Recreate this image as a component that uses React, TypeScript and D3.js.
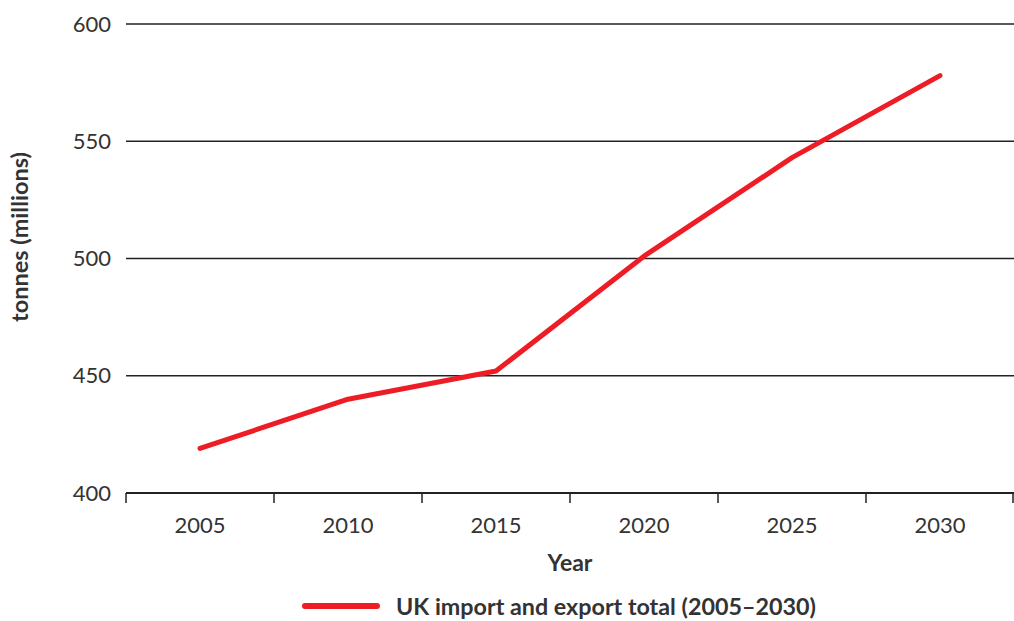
import React from "react";
import * as d3 from "d3";

const years = ["2005", "2010", "2015", "2020", "2025", "2030"];
const totals = [419, 440, 452, 501, 543, 578];
const yTicks = [400, 450, 500, 550, 600];
const seriesName = "UK import and export total (2005–2030)";

const W = 1014;
const H = 621;
const margin = { left: 126, right: 0, top: 24, bottom: 128 };
const FONT = "Lato, 'Open Sans', sans-serif";

export default function App() {
  const x = d3
    .scaleBand<string>()
    .domain(years)
    .range([margin.left, W - margin.right])
    .padding(0);
  const y = d3
    .scaleLinear()
    .domain([400, 600])
    .range([H - margin.bottom, margin.top]);

  const line = d3
    .line<number>()
    .x((_, i) => (x(years[i]) as number) + x.bandwidth() / 2)
    .y((d) => y(d));

  const boundaries = years.map((yr) => x(yr) as number).concat([W - margin.right - 1]);
  const y0 = y(400);

  return (
    <svg
      width={W}
      height={H}
      style={{ position: "absolute", left: 0, top: 0, background: "#fff" }}
      fontFamily={FONT}
    >
      {yTicks.map((t) => (
        <g key={t}>
          {t !== 400 && (
            <line x1={margin.left} x2={W} y1={y(t)} y2={y(t)} stroke="#222" strokeWidth={1.5} />
          )}
          <text x={111} y={y(t)} dy="0.35em" textAnchor="end" fontSize={22} fill="#333">
            {t}
          </text>
        </g>
      ))}
      <line x1={margin.left} x2={W} y1={y0} y2={y0} stroke="#222" strokeWidth={2} />
      {boundaries.map((b, i) => (
        <line key={i} x1={b} x2={b} y1={y0} y2={y0 + 10} stroke="#222" strokeWidth={1.5} />
      ))}
      {years.map((yr) => (
        <text
          key={yr}
          x={(x(yr) as number) + x.bandwidth() / 2}
          y={525}
          dy="0.35em"
          textAnchor="middle"
          fontSize={22}
          fill="#333"
        >
          {yr}
        </text>
      ))}
      <text x={570} y={563} dy="0.35em" textAnchor="middle" fontSize={23} fontWeight="bold" fill="#333">
        Year
      </text>
      <text
        transform={`translate(20,${237}) rotate(-90)`}
        textAnchor="middle"
        dy="0.35em"
        fontSize={23.5}
        fontWeight="bold"
        fill="#333"
      >
        tonnes (millions)
      </text>
      <path
        d={line(totals) || ""}
        fill="none"
        stroke="#ee1c25"
        strokeWidth={5}
        strokeLinecap="round"
        strokeLinejoin="round"
      />
      <line x1={305} x2={377} y1={606} y2={606} stroke="#ee1c25" strokeWidth={6} strokeLinecap="round" />
      <text x={396} y={607} dy="0.35em" fontSize={23.3} fontWeight="bold" fill="#333">
        {seriesName}
      </text>
    </svg>
  );
}
